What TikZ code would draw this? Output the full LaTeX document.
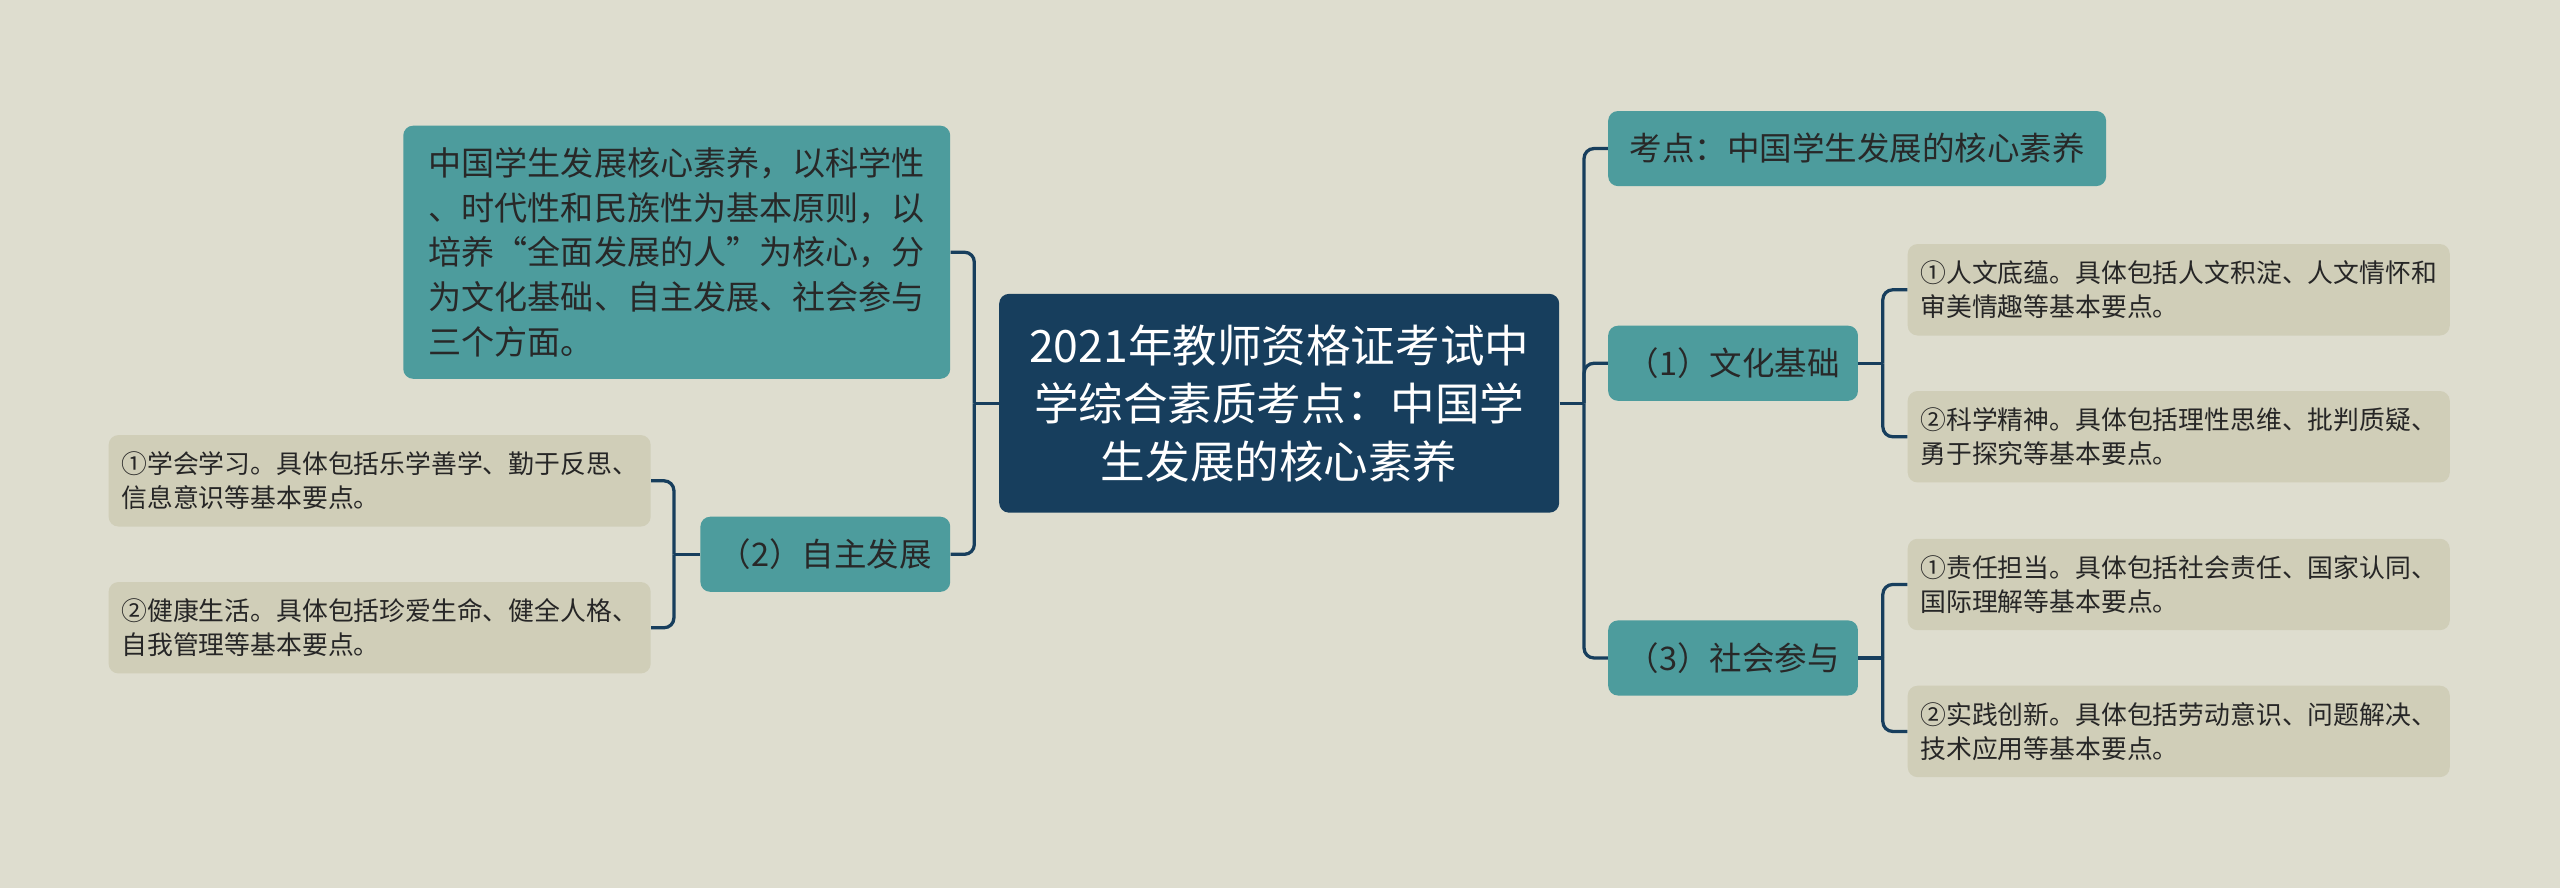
\documentclass[tikz,border=0pt]{standalone}
\usepackage{fontspec}
\setmainfont{Noto Sans CJK SC}
\usetikzlibrary{
  positioning,
  calc}
\definecolor{bgcolor}{RGB}{222,221,207}
\definecolor{rootcolor}{RGB}{23,62,93}
\definecolor{topiccolor}{RGB}{77,156,157}
\definecolor{leafcolor}{RGB}{208,206,184}
\definecolor{darktext}{RGB}{40,40,40}
\newlength{\px}
\setlength{\px}{0.03cm}
\tikzset{
  %% root : the title in the middle
  root/.style={
    rectangle,
    rounded corners=6\px,
    fill=rootcolor,
    text=white,
    minimum width=343\px,
    minimum height=134\px,
    align=center,
    font=\fontsize{23.3}{30.3}\selectfont
  },
  %% intro : the long text box on the left
  intro/.style={
    rectangle,
    rounded corners=6\px,
    fill=topiccolor,
    text=darktext,
    minimum width=335\px,
    minimum height=155\px,
    align=left,
    font=\fontsize{17.3}{23.3}\selectfont
  },
  %% topic : a first level branch
  topic/.style={
    rectangle,
    rounded corners=6\px,
    fill=topiccolor,
    text=darktext,
    minimum height=46\px,
    align=center,
    font=\fontsize{17}{20}\selectfont
  },
  %% leaf : a point under a branch
  leaf/.style={
    rectangle,
    rounded corners=6\px,
    fill=leafcolor,
    text=black!85,
    minimum width=332\px,
    minimum height=56\px,
    align=left,
    font=\fontsize{13.5}{18}\selectfont
  },
  %% link : connector between nodes
  link/.style={rootcolor, line width=2\px, rounded corners=6\px}
}

\begin{document}
\begin{tikzpicture}
  [x=0.03cm,
  y=-0.03cm]

  %% Background and size
  \fill [bgcolor] (0, 0) rectangle (1568, 544);
  \useasboundingbox (0, 0) rectangle (1568, 544);

  %% Centre
  \node (root) [root] at (783.5, 247){%
    2021年教师资格证考试中\\
    学综合素质考点：中国学\\
    生发展的核心素养};

  %% Left side
  \node (intro) [intro] at (414.5, 154.5){%
    中国学生发展核心素养，以科学性\\
    、时代性和民族性为基本原则，以\\
    培养“全面发展的人”为核心，分\\
    为文化基础、自主发展、社会参与\\
    三个方面。};

  \node (self) [topic, minimum width=153\px] at (505.5, 339.5){%
    （2）自主发展};

  \node (learn) [leaf, left=30\px of self, yshift=45\px]{%
    ①学会学习。具体包括乐学善学、勤于反思、\\
    信息意识等基本要点。};

  \node (health) [leaf, left=30\px of self, yshift=-45\px]{%
    ②健康生活。具体包括珍爱生命、健全人格、\\
    自我管理等基本要点。};

  %% Right side
  \node (kaodian) [topic, minimum width=305\px] at (1137.5, 91){%
    考点：中国学生发展的核心素养};

  \node (culture) [topic, minimum width=153\px] at (1061.5, 222.5){%
    （1）文化基础};

  \node (human) [leaf, right=30\px of culture, yshift=45\px]{%
    ①人文底蕴。具体包括人文积淀、人文情怀和\\
    审美情趣等基本要点。};

  \node (science) [leaf, right=30\px of culture, yshift=-45\px]{%
    ②科学精神。具体包括理性思维、批判质疑、\\
    勇于探究等基本要点。};

  \node (social) [topic, minimum width=153\px] at (1061.5, 403){%
    （3）社会参与};

  \node (duty) [leaf, right=30\px of social, yshift=45\px]{%
    ①责任担当。具体包括社会责任、国家认同、\\
    国际理解等基本要点。};

  \node (practice) [leaf, right=30\px of social, yshift=-45\px]{%
    ②实践创新。具体包括劳动意识、问题解决、\\
    技术应用等基本要点。};

  %% Connections
  \coordinate (ltrunk) at ($(root.west) + (-15, 0)$);
  \coordinate (rtrunk) at ($(root.east) + (15, 0)$);
  \coordinate (selftrunk) at ($(self.west) + (-16, 0)$);
  \coordinate (culturetrunk) at ($(culture.east) + (15, 0)$);
  \coordinate (socialtrunk) at ($(social.east) + (15, 0)$);

  \draw [link] (root.west) -- (ltrunk);
  \draw [link] (ltrunk) |- (intro.east);
  \draw [link] (ltrunk) |- (self.east);

  \draw [link] (self.west) -- (selftrunk);
  \draw [link] (selftrunk) |- (learn.east);
  \draw [link] (selftrunk) |- (health.east);

  \draw [link] (root.east) -- (rtrunk);
  \draw [link] (rtrunk) |- (kaodian.west);
  \draw [link] (rtrunk) |- (culture.west);
  \draw [link] (rtrunk) |- (social.west);

  \draw [link] (culture.east) -- (culturetrunk);
  \draw [link] (culturetrunk) |- (human.west);
  \draw [link] (culturetrunk) |- (science.west);

  \draw [link] (social.east) -- (socialtrunk);
  \draw [link] (socialtrunk) |- (duty.west);
  \draw [link] (socialtrunk) |- (practice.west);

\end{tikzpicture}
\end{document}
